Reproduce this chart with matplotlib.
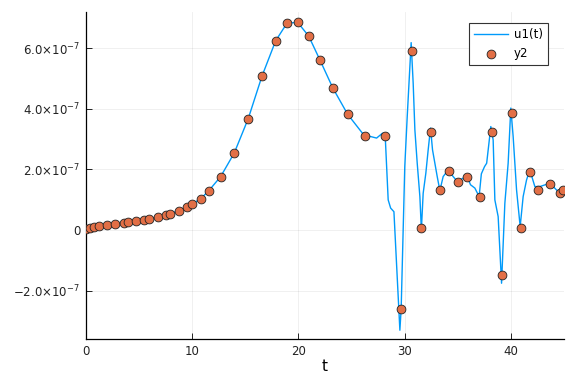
import numpy as np
from matplotlib import pyplot as plt

# sampled points (y2), values in units of 1e-7
t_pts = [0.0, 0.40, 0.81, 1.28, 1.97, 2.73, 3.57, 3.95, 4.73, 5.48, 5.95, 6.80,
         7.55, 7.92, 8.74, 9.49, 9.96, 10.81, 11.59, 12.69, 13.97, 15.28, 16.57,
         17.86, 18.92, 19.92, 20.96, 22.02, 23.24, 24.62, 26.22, 28.16, 29.66,
         30.64, 31.54, 32.45, 33.30, 34.12, 34.96, 35.87, 37.06, 38.19, 39.15,
         40.04, 40.94, 41.76, 42.54, 43.64, 44.58, 44.89]
y_pts = [0.02, 0.06, 0.09, 0.12, 0.16, 0.19, 0.23, 0.25, 0.30, 0.34, 0.36, 0.43,
         0.50, 0.54, 0.63, 0.75, 0.84, 1.03, 1.30, 1.76, 2.54, 3.67, 5.07,
         6.24, 6.82, 6.85, 6.40, 5.61, 4.68, 3.82, 3.10, 3.10, -2.61,
         5.91, 0.06, 3.24, 1.31, 1.94, 1.59, 1.75, 1.09, 3.24, -1.50,
         3.87, 0.06, 1.92, 1.31, 1.53, 1.23, 1.32]

# solution curve u1(t), values in units of 1e-7
t_line = [0.0, 0.40, 0.81, 1.28, 1.97, 2.73, 3.57, 3.95, 4.73, 5.48, 5.95, 6.80,
          7.55, 7.92, 8.74, 9.49, 9.96, 10.81, 11.59, 12.69, 13.97, 15.28, 16.57,
          17.86, 18.92, 19.92, 20.96, 22.02, 23.24, 24.62, 26.22, 26.8, 27.35,
          27.9, 28.16, 28.44, 28.67, 28.98, 29.54, 29.66, 30.0, 30.23, 30.60,
          30.79, 30.95, 31.17, 31.42, 31.56, 31.73, 31.98, 32.2, 32.42, 32.61,
          32.83, 33.05, 33.30, 33.61, 34.08, 34.55, 34.96, 35.49, 35.87, 36.18,
          36.59, 36.99, 37.2, 37.5, 37.7, 38.09, 38.31, 38.47, 38.78, 39.10,
          39.41, 39.72, 39.97, 40.19, 40.51, 40.85, 41.13, 41.45, 41.76, 42.23,
          42.70, 43.64, 44.58, 45.0]
y_line = [0.02, 0.06, 0.09, 0.12, 0.16, 0.19, 0.23, 0.25, 0.30, 0.34, 0.36, 0.43,
          0.50, 0.54, 0.63, 0.75, 0.84, 1.03, 1.30, 1.76, 2.54, 3.67, 5.07,
          6.24, 6.82, 6.85, 6.40, 5.61, 4.68, 3.82, 3.10, 3.08, 3.03,
          3.19, 3.10, 0.99, 0.72, 0.60, -3.31, -2.61, 2.09, 3.74, 6.18,
          4.84, 3.30, 2.20, 1.10, 0.0, 1.21, 1.87, 2.64, 3.36, 2.64,
          2.20, 1.76, 1.30, 1.76, 1.98, 1.76, 1.59, 1.71, 1.76, 1.49,
          1.38, 1.10, 1.85, 2.09, 2.20, 3.41, 2.97, 0.99, 0.44, -1.76,
          0.88, 2.20, 4.02, 3.08, 1.32, 0.11, 1.10, 1.65, 1.98, 1.43,
          1.43, 1.54, 1.21, 1.30]

x_ticks = [0, 10, 20, 30, 40]
y_ticks = [-2e-7, 0, 2e-7, 4e-7, 6e-7]
y_tick_labels = [r'$-2.0{\times}10^{-7}$', '0', r'$2.0{\times}10^{-7}$',
                 r'$4.0{\times}10^{-7}$', r'$6.0{\times}10^{-7}$']


def main():
    fig = plt.figure(figsize=(5.76, 3.84), dpi=100)
    ax = fig.add_axes([0.1488, 0.1164, 0.8309, 0.8531])

    ax.plot(t_line, np.array(y_line) * 1e-7, color='#009AFA', lw=1.0,
            label='u1(t)', zorder=2)
    ax.scatter(t_pts, np.array(y_pts) * 1e-7, s=40, color='#E26F46',
               edgecolors='#222222', linewidths=0.6, label='y2', zorder=3)

    ax.set_xlim(0, 45)
    ax.set_ylim(-3.61e-7, 7.2e-7)
    ax.set_xticks(x_ticks)
    ax.set_yticks(y_ticks)
    ax.set_yticklabels(y_tick_labels)
    ax.set_xlabel('t', fontsize=11, labelpad=1)

    ax.grid(True, color='black', alpha=0.07, lw=0.6)
    ax.spines['top'].set_visible(False)
    ax.spines['right'].set_visible(False)
    ax.spines['left'].set_linewidth(0.9)
    ax.spines['bottom'].set_linewidth(0.9)
    ax.tick_params(direction='in', length=4, width=0.7, labelsize=8.5, pad=4,
                   colors='#222222')

    leg = ax.legend(loc='upper right', bbox_to_anchor=(0.9666, 0.9664),
                    borderaxespad=0, fontsize=8.5, fancybox=False, framealpha=1,
                    borderpad=0.45, handlelength=2.9, handletextpad=0.5,
                    edgecolor='#333333')
    leg.get_frame().set_linewidth(0.8)

    plt.savefig('out.png', dpi=100)


if __name__ == '__main__':
    main()
